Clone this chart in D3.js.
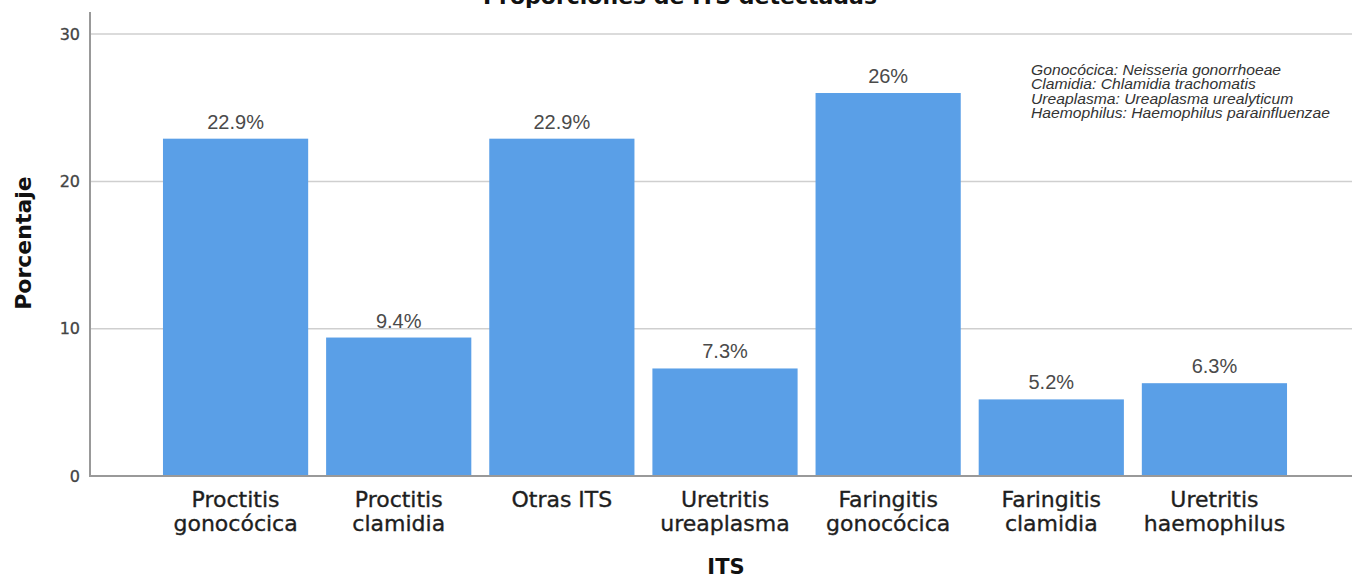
<!DOCTYPE html>
<html>
<head>
<meta charset="utf-8">
<script src="https://cdn.jsdelivr.net/npm/d3@7"></script>
<style>
  html, body { margin: 0; padding: 0; background: #fff; }
  svg { display: block; }
</style>
</head>
<body>
<svg id="chart" width="1352" height="584"></svg>
<script>
// ---- Data ----
const categories = [
  "Proctitis\ngonocócica",
  "Proctitis\nclamidia",
  "Otras ITS",
  "Uretritis\nureaplasma",
  "Faringitis\ngonocócica",
  "Faringitis\nclamidia",
  "Uretritis\nhaemophilus"
];
const values = [22.9, 9.4, 22.9, 7.3, 26, 5.2, 6.3];
const yTicks = [0, 10, 20, 30];
const title = "Proporciones de ITS detectadas";
const xTitle = "ITS";
const yTitle = "Porcentaje";
const notes = [
  "Gonocócica: Neisseria gonorrhoeae",
  "Clamidia: Chlamidia trachomatis",
  "Ureaplasma: Ureaplasma urealyticum",
  "Haemophilus: Haemophilus parainfluenzae"
];

// ---- Layout ----
const svg = d3.select("#chart");
const axisX = 90, rightX = 1352, baseY = 476, topY = 12;

const x = d3.scaleBand()
  .domain(d3.range(categories.length))
  .range([154, 1296])
  .paddingInner(0.11)
  .paddingOuter(0.055);

const y = d3.scaleLinear().domain([0, 31.5]).range([baseY, topY]);

// gridlines
svg.append("g").selectAll("line")
  .data(yTicks.filter(d => d > 0))
  .join("line")
  .attr("x1", axisX).attr("x2", rightX)
  .attr("y1", d => y(d)).attr("y2", d => y(d))
  .attr("stroke", "#cfcfcf").attr("stroke-width", 1.5);

// bars
svg.append("g").selectAll("rect")
  .data(values)
  .join("rect")
  .attr("x", (d, i) => x(i))
  .attr("width", x.bandwidth())
  .attr("y", d => y(d))
  .attr("height", d => baseY - y(d))
  .attr("fill", "#5a9fe7");

// value labels
svg.append("g").selectAll("text")
  .data(values)
  .join("text")
  .attr("x", (d, i) => x(i) + x.bandwidth() / 2)
  .attr("y", d => y(d) - 10)
  .attr("text-anchor", "middle")
  .attr("font-family", "Liberation Sans, Arial, sans-serif")
  .attr("font-size", 20)
  .attr("fill", "#4a4a4a")
  .text(d => `${d}%`);

// y axis
const yAxis = d3.axisLeft(y).tickValues(yTicks).tickSize(0).tickPadding(10);
const gy = svg.append("g").attr("transform", `translate(${axisX},0)`).call(yAxis);
gy.select(".domain").remove();
gy.selectAll("text")
  .attr("font-family", "DejaVu Sans, sans-serif")
  .attr("font-size", 16)
  .attr("fill", "#444")
  .attr("stroke", "#444").attr("stroke-width", 0.3);
svg.append("line")
  .attr("x1", axisX).attr("x2", axisX)
  .attr("y1", topY).attr("y2", baseY)
  .attr("stroke", "#999").attr("stroke-width", 2);

// x axis
svg.append("line")
  .attr("x1", axisX - 1).attr("x2", rightX)
  .attr("y1", baseY).attr("y2", baseY)
  .attr("stroke", "#999").attr("stroke-width", 2);

const xAxis = d3.axisBottom(x).tickSize(0).tickFormat(() => "");
const gx = svg.append("g").attr("transform", `translate(0,${baseY})`).call(xAxis);
gx.select(".domain").remove();
gx.selectAll(".tick text").remove();
gx.selectAll(".tick").each(function(d) {
  const lines = categories[d].split("\n");
  const t = d3.select(this).append("text")
    .attr("text-anchor", "middle")
    .attr("font-family", "DejaVu Sans, sans-serif")
    .attr("font-size", 22)
    .attr("fill", "#1e1e1e")
    .attr("stroke", "#1e1e1e").attr("stroke-width", 0.35);
  lines.forEach((ln, k) => {
    t.append("tspan").attr("x", 0).attr("y", 31 + k * 24).text(ln);
  });
});

// titles
svg.append("text")
  .attr("x", 680).attr("y", 4)
  .attr("text-anchor", "middle")
  .attr("font-family", "DejaVu Sans, sans-serif")
  .attr("font-weight", "bold")
  .attr("font-size", 22)
  .attr("fill", "#111")
  .text(title);

svg.append("text")
  .attr("x", 726).attr("y", 574)
  .attr("text-anchor", "middle")
  .attr("font-family", "DejaVu Sans, sans-serif")
  .attr("font-weight", "bold")
  .attr("font-size", 21)
  .attr("fill", "#111")
  .text(xTitle);

svg.append("text")
  .attr("transform", "translate(31,243) rotate(-90)")
  .attr("text-anchor", "middle")
  .attr("font-family", "DejaVu Sans, sans-serif")
  .attr("font-weight", "bold")
  .attr("font-size", 22)
  .attr("fill", "#111")
  .text(yTitle);

// notes
const gn = svg.append("g").attr("transform", "translate(1031,75) scale(1.12,1)");
gn.selectAll("text")
  .data(notes)
  .join("text")
  .attr("x", 0)
  .attr("y", (d, i) => i * 14.4)
  .attr("font-family", "Liberation Sans, Arial, sans-serif")
  .attr("font-style", "italic")
  .attr("font-size", 14)
  .attr("fill", "#333")
  .text(d => d);
</script>
</body>
</html>
